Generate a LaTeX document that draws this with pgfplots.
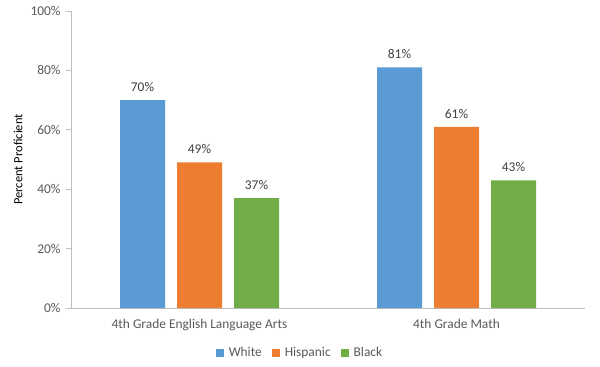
\documentclass[border=0pt]{standalone}
\usepackage{pgfplots}
\pgfplotsset{compat=1.18}
\usepackage{fontspec}
\setmainfont{Carlito}
\definecolor{cblue}{HTML}{5B9BD5}
\definecolor{corange}{HTML}{ED7D31}
\definecolor{cgreen}{HTML}{70AD47}
\definecolor{ctick}{HTML}{595959}
\definecolor{clab}{HTML}{404040}
\definecolor{caxis}{HTML}{BFBFBF}
\begin{document}
\begin{tikzpicture}
\path[use as bounding box] (0,0) rectangle (600bp,367bp);
\begin{axis}[
  at={(71bp,59bp)}, anchor=south west,
  scale only axis,
  width=514bp, height=297bp,
  xmin=-0.5, xmax=1.5,
  ymin=0, ymax=100,
  xtick={0,1},
  xticklabels={4th Grade English Language Arts, 4th Grade Math},
  ytick={0,20,40,60,80,100},
  yticklabel={\pgfmathprintnumber{\tick}\%},
  /pgf/number format/assume math mode=true,
  axis x line*=bottom, axis y line*=left,
  axis line style={caxis, line width=0.8bp},
  x axis line style={-}, y axis line style={-},
  tick align=outside,
  x tick style={draw=none},
  y tick style={caxis, line width=0.8bp},
  major tick length=5bp,
  tick label style={font=\fontsize{13.4bp}{15bp}\selectfont, text=ctick},
  yticklabel style={xshift=-2bp},
  xticklabel style={yshift=-3bp},
  ylabel={Percent Proficient},
  every axis y label/.style={at={(axis description cs:-0.103,0.5)}, rotate=90, anchor=center,
    font=\fontsize{12.5bp}{14bp}\selectfont, text=black},
  ybar=0pt,
  bar width=45bp,
  nodes near coords={\pgfmathprintnumber{\pgfplotspointmeta}\%},
  nodes near coords style={font=\fontsize{13.4bp}{15bp}\selectfont, text=clab, yshift=5bp},
  clip=false,
  legend columns=3,
  legend style={at={(axis description cs:0.4455,-0.1515)}, anchor=center, draw=none,
    font=\fontsize{13.4bp}{15bp}\selectfont, text=ctick,
    /tikz/every even column/.append style={column sep=8bp}},
  legend cell align=left,
  legend image code/.code={\fill[#1] (0bp,-4bp) rectangle (8bp,4bp); \path (11bp,0bp);},
]
\addplot[fill=cblue, draw=none, bar shift=-57bp] coordinates {(0,70) (1,81)};
\addplot[fill=corange, draw=none, bar shift=0bp] coordinates {(0,49) (1,61)};
\addplot[fill=cgreen, draw=none, bar shift=57bp] coordinates {(0,37) (1,43)};
\legend{White, Hispanic, Black}
\end{axis}
\end{tikzpicture}
\end{document}
